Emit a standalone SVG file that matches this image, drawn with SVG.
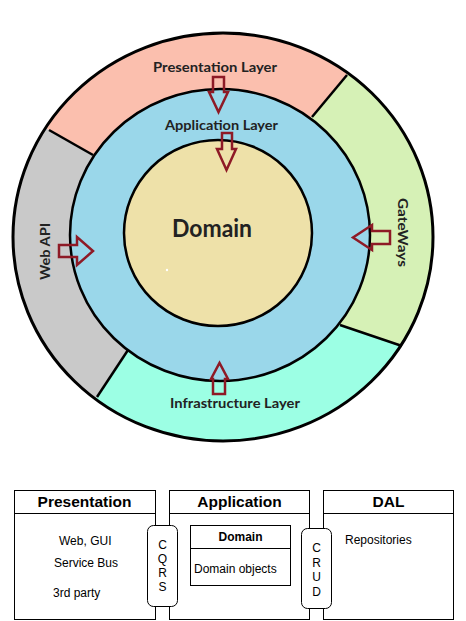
<svg xmlns="http://www.w3.org/2000/svg" width="466" height="621" viewBox="0 0 466 621">
<style>
.ring{stroke:#000;stroke-width:2.5}
.div{stroke:#000;stroke-width:2.5;fill:none}
.arr{fill:none;stroke:#8E1A26;stroke-width:2.5;stroke-linejoin:miter}
.lbl{font-family:Lato,"Open Sans","Liberation Sans",sans-serif;font-weight:bold;fill:#222}
.box{fill:#fff;stroke:#000;stroke-width:1}
.hd{font-family:"Liberation Sans",Arial,sans-serif;font-weight:bold;font-size:15.5px;fill:#000;text-anchor:middle}
.tx{font-family:"Liberation Sans",Arial,sans-serif;font-size:12px;fill:#000}
.ct{font-family:"Liberation Sans",Arial,sans-serif;font-size:12px;fill:#000;text-anchor:middle}
</style>
<defs>
<clipPath id="outerClip"><ellipse cx="223" cy="237" rx="210" ry="204"/></clipPath>
</defs>
<rect width="466" height="621" fill="#fff"/>
<g id="rings">
<g clip-path="url(#outerClip)">
<polygon id="presentation-layer" fill="#FBBFAE" points="220,235 110,165 -124,31 -124,-100 472,-100 472,-75 299,132"/>
<polygon id="gateways" fill="#D6F1B6" points="220,235 299,132 472,-75 600,-75 600,405 577,405 321,319"/>
<polygon id="infrastructure-layer" fill="#9CFFE4" points="220,235 321,319 577,405 577,700 -10,700 -10,558 139,333"/>
<polygon id="web-api" fill="#C9C9C9" points="220,235 139,333 -10,558 -200,558 -200,31 -124,31 110,165"/>
</g>
<ellipse cx="223" cy="237" rx="210" ry="204" fill="none" stroke="#000" stroke-width="3"/>
<line class="div" x1="49" y1="130" x2="93" y2="155"/>
<line class="div" x1="347" y1="75" x2="312" y2="117"/>
<line class="div" x1="340" y1="325" x2="402" y2="346"/>
<line class="div" x1="97" y1="397" x2="128" y2="350"/>
<ellipse id="application-layer" class="ring" cx="220" cy="235" rx="150" ry="146" fill="#9AD7EA"/>
<ellipse id="domain" class="ring" cx="218" cy="233" rx="94" ry="93" fill="#EEE1A9"/>
<circle cx="167" cy="270" r="1.2" fill="#fff"/>
</g>
<g id="connectors">
<polygon class="arr" points="213,77 224,77 224,92 228,92 218.5,112 209,92 213,92"/>
<polygon class="arr" points="222,133 232,133 232,149 236,149 226.5,170 217,149 222,149"/>
<polygon class="arr" points="59,245 77,245 77,237 93,251 77,265 77,257 59,257"/>
<polygon class="arr" points="390,231 372,231 372,225 353,237.5 372,250 372,244 390,244"/>
<polygon class="arr" points="213,394 225,394 225,379 228,379 219.5,363 211,379 213,379"/>
</g>
<g id="labels">
<text class="lbl" x="215" y="72" font-size="14" text-anchor="middle" textLength="124" lengthAdjust="spacingAndGlyphs">Presentation Layer</text>
<text class="lbl" x="221.5" y="130" font-size="14" text-anchor="middle" textLength="113" lengthAdjust="spacingAndGlyphs">Application Layer</text>
<text class="lbl" x="212" y="237" font-size="24" text-anchor="middle" textLength="80" lengthAdjust="spacingAndGlyphs" fill="#111">Domain</text>
<text class="lbl" x="235" y="408" font-size="14" text-anchor="middle" textLength="130" lengthAdjust="spacingAndGlyphs">Infrastructure Layer</text>
<text class="lbl" font-size="14" text-anchor="middle" textLength="57" lengthAdjust="spacingAndGlyphs" transform="translate(50,251.5) rotate(-90)">Web API</text>
<text class="lbl" font-size="14" text-anchor="middle" textLength="69" lengthAdjust="spacingAndGlyphs" transform="translate(398,232.5) rotate(90)">GateWays</text>
</g>
<g id="presentation">
<rect class="box" x="14.5" y="490.5" width="141" height="129"/>
<line x1="14.5" y1="513.5" x2="155.5" y2="513.5" stroke="#000"/>
<text class="hd" x="84.5" y="507">Presentation</text>
<text class="tx" x="59" y="545">Web, GUI</text>
<text class="tx" x="54" y="567">Service Bus</text>
<text class="tx" x="53" y="597">3rd party</text>
</g>
<g id="application">
<rect class="box" x="169.5" y="490.5" width="140" height="129"/>
<line x1="169.5" y1="513.5" x2="309.5" y2="513.5" stroke="#000"/>
<text class="hd" x="239.5" y="507">Application</text>
</g>
<g id="domain-box">
<rect class="box" x="190.5" y="525.5" width="100" height="60"/>
<line x1="190.5" y1="548.5" x2="290.5" y2="548.5" stroke="#000"/>
<text class="ct" x="240.5" y="541" font-weight="bold" font-size="11.5">Domain</text>
<text class="tx" x="194" y="573">Domain objects</text>
</g>
<g id="dal">
<rect class="box" x="323.5" y="490.5" width="130" height="129"/>
<line x1="323.5" y1="513.5" x2="453.5" y2="513.5" stroke="#000"/>
<text class="hd" x="388.5" y="507">DAL</text>
<text class="tx" x="345" y="544">Repositories</text>
</g>
<g id="cqrs">
<rect class="box" x="147.5" y="525.5" width="30" height="81" rx="6"/>
<text class="ct" x="162.5" y="549">C</text>
<text class="ct" x="162.5" y="563">Q</text>
<text class="ct" x="162.5" y="577">R</text>
<text class="ct" x="162.5" y="591">S</text>
</g>
<g id="crud">
<rect class="box" x="301.5" y="528.5" width="30" height="80" rx="6"/>
<text class="ct" x="316.5" y="552">C</text>
<text class="ct" x="316.5" y="567">R</text>
<text class="ct" x="316.5" y="581">U</text>
<text class="ct" x="316.5" y="596">D</text>
</g>
</svg>
